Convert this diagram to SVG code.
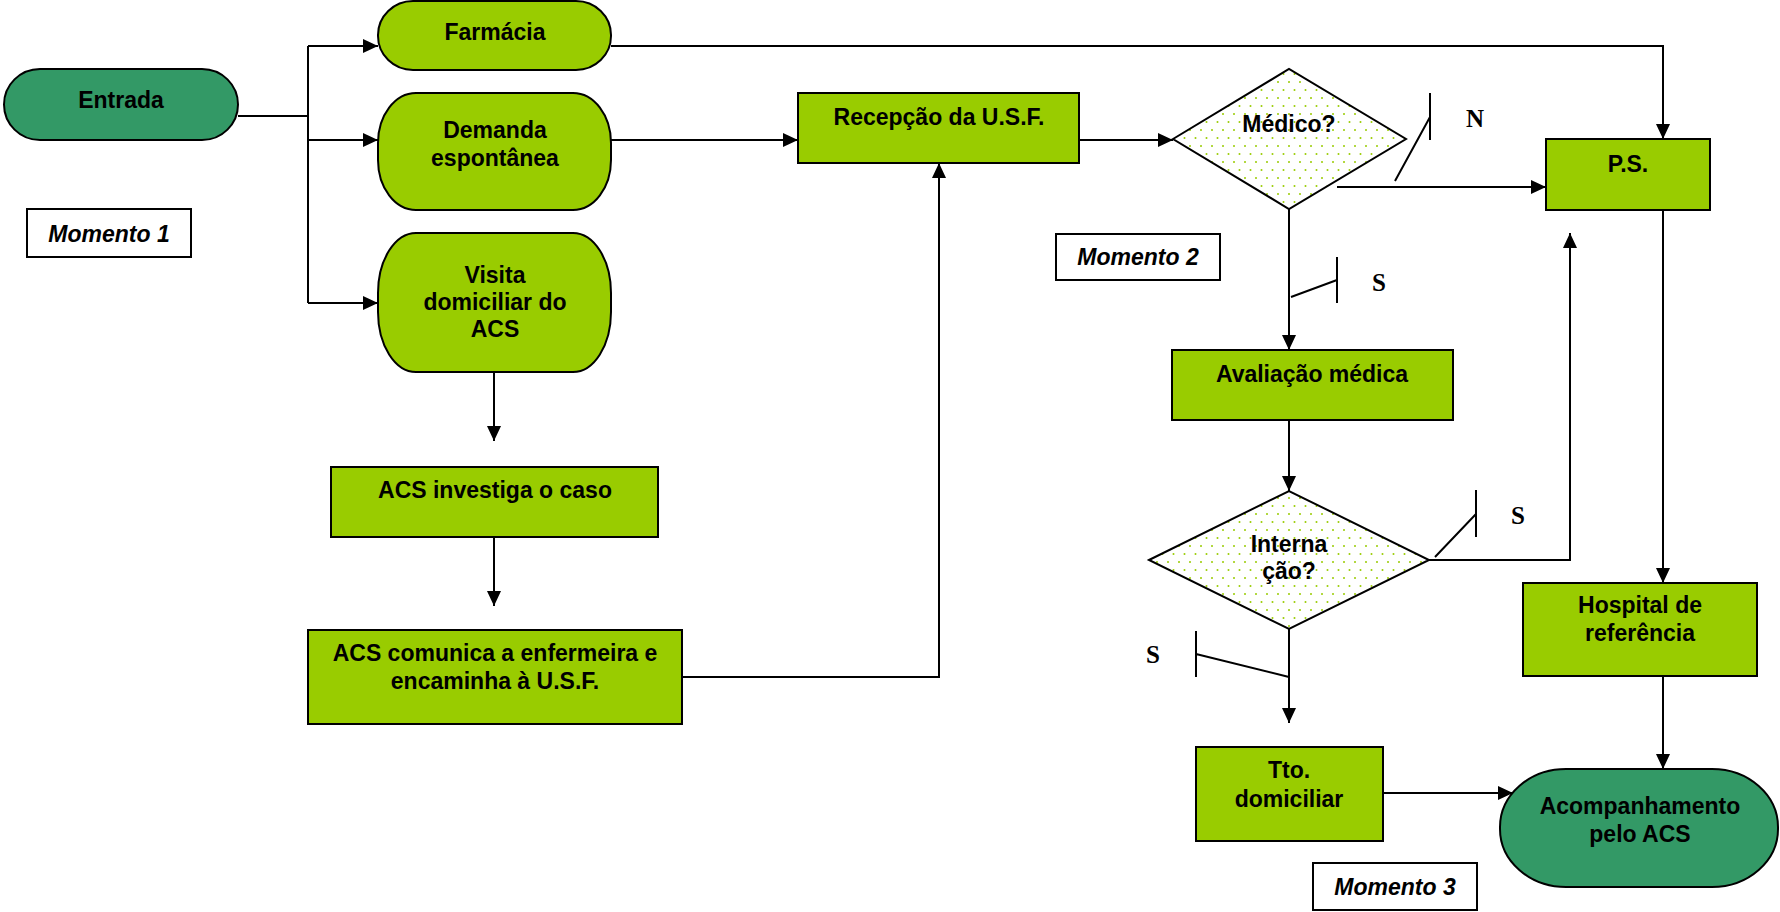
<svg xmlns="http://www.w3.org/2000/svg" width="1780" height="912" viewBox="0 0 1780 912">
<style>
.n{fill:#99cc00;stroke:#000;stroke-width:2}
.d{fill:#339966;stroke:#000;stroke-width:2}
.q{fill:url(#dots);stroke:#000;stroke-width:2}
.m{fill:#fff;stroke:#000;stroke-width:2}
.t{font-family:"Liberation Sans",Arial,sans-serif;font-weight:bold;font-size:23px;fill:#000;text-anchor:middle}
.i{font-style:italic}
.l{font-family:"Liberation Serif","Times New Roman",serif;font-weight:bold;font-size:25px;fill:#000;text-anchor:middle}
.c{fill:none;stroke:#000;stroke-width:2}
</style>
<defs>
<marker id="a" markerUnits="userSpaceOnUse" markerWidth="15" markerHeight="14" refX="15" refY="7" orient="auto">
<path d="M0,0 L15,7 L0,14 z" fill="#000"/>
</marker>
<pattern id="dots" patternUnits="userSpaceOnUse" width="11" height="16">
<rect width="11" height="16" fill="#fff"/>
<circle cx="2" cy="2" r="1" fill="#99cc00"/>
<circle cx="7.5" cy="10" r="1" fill="#99cc00"/>
</pattern>
</defs>
<g id="connectors">
<path class="c" d="M238,116 H308"/>
<path class="c" d="M308,46 V303"/>
<path class="c" d="M308,46 H378" marker-end="url(#a)"/>
<path class="c" d="M308,140 H378" marker-end="url(#a)"/>
<path class="c" d="M308,303 H378" marker-end="url(#a)"/>
<path class="c" d="M611,46 H1663 V139" marker-end="url(#a)"/>
<path class="c" d="M611,140 H798" marker-end="url(#a)"/>
<path class="c" d="M494,372 V441" marker-end="url(#a)"/>
<path class="c" d="M494,537 V606" marker-end="url(#a)"/>
<path class="c" d="M682,677 H939 V163" marker-end="url(#a)"/>
<path class="c" d="M1079,140 H1173" marker-end="url(#a)"/>
<path class="c" d="M1337,187 H1546" marker-end="url(#a)"/>
<path class="c" d="M1395,181 L1430,117 M1430,93 V140"/>
<path class="c" d="M1289,209 V350" marker-end="url(#a)"/>
<path class="c" d="M1291,297 L1337,280 M1337,257 V303"/>
<path class="c" d="M1289,420 V491" marker-end="url(#a)"/>
<path class="c" d="M1429,560 H1570 V233" marker-end="url(#a)"/>
<path class="c" d="M1435,557 L1476,514 M1476,490 V537"/>
<path class="c" d="M1289,629 V723" marker-end="url(#a)"/>
<path class="c" d="M1289,677 L1196,654 M1196,631 V677"/>
<path class="c" d="M1663,210 V583" marker-end="url(#a)"/>
<path class="c" d="M1663,676 V769" marker-end="url(#a)"/>
<path class="c" d="M1383,793 H1513" marker-end="url(#a)"/>
</g>
<g id="entrada"><rect class="d" x="4" y="69" width="234" height="71" rx="36" ry="36"/><text class="t" x="121" y="108">Entrada</text></g>
<g id="farmacia"><rect class="n" x="378" y="1" width="233" height="69" rx="35" ry="34"/><text class="t" x="495" y="40">Farmácia</text></g>
<g id="demanda"><rect class="n" x="378" y="93" width="233" height="117" rx="38" ry="50"/><text class="t" x="495" y="138">Demanda</text><text class="t" x="495" y="166">espontânea</text></g>
<g id="visita"><rect class="n" x="378" y="233" width="233" height="139" rx="38" ry="60"/><text class="t" x="495" y="283">Visita</text><text class="t" x="495" y="310">domiciliar do</text><text class="t" x="495" y="337">ACS</text></g>
<g id="momento1"><rect class="m" x="27" y="209" width="164" height="48"/><text class="t i" x="109" y="242">Momento 1</text></g>
<g id="acs-investiga"><rect class="n" x="331" y="467" width="327" height="70"/><text class="t" x="495" y="498">ACS investiga o caso</text></g>
<g id="acs-comunica"><rect class="n" x="308" y="630" width="374" height="94"/><text class="t" x="495" y="661">ACS comunica a enfermeira e</text><text class="t" x="495" y="689">encaminha à U.S.F.</text></g>
<g id="recepcao"><rect class="n" x="798" y="93" width="281" height="70"/><text class="t" x="939" y="125">Recepção da U.S.F.</text></g>
<g id="momento2"><rect class="m" x="1056" y="234" width="164" height="46"/><text class="t i" x="1138" y="265">Momento 2</text></g>
<g id="medico"><polygon class="q" points="1173,139 1289,69 1406,139 1289,209"/><text class="t" x="1289" y="132">Médico?</text></g>
<g id="ps"><rect class="n" x="1546" y="139" width="164" height="71"/><text class="t" x="1628" y="172">P.S.</text></g>
<g id="avaliacao"><rect class="n" x="1172" y="350" width="281" height="70"/><text class="t" x="1312" y="382">Avaliação médica</text></g>
<g id="internacao"><polygon class="q" points="1149,560 1289,491 1429,560 1289,629"/><text class="t" x="1289" y="552">Interna</text><text class="t" x="1289" y="579">ção?</text></g>
<g id="hospital"><rect class="n" x="1523" y="583" width="234" height="93"/><text class="t" x="1640" y="613">Hospital de</text><text class="t" x="1640" y="641">referência</text></g>
<g id="tto"><rect class="n" x="1196" y="747" width="187" height="94"/><text class="t" x="1289" y="778">Tto.</text><text class="t" x="1289" y="807">domiciliar</text></g>
<g id="acompanhamento"><rect class="d" x="1500" y="769" width="278" height="118" rx="66" ry="58"/><text class="t" x="1640" y="814">Acompanhamento</text><text class="t" x="1640" y="842">pelo ACS</text></g>
<g id="momento3"><rect class="m" x="1313" y="863" width="164" height="47"/><text class="t i" x="1395" y="895">Momento 3</text></g>
<g id="labels">
<text class="l" x="1475" y="127">N</text>
<text class="l" x="1379" y="291">S</text>
<text class="l" x="1518" y="524">S</text>
<text class="l" x="1153" y="663">S</text>
</g>
</svg>
